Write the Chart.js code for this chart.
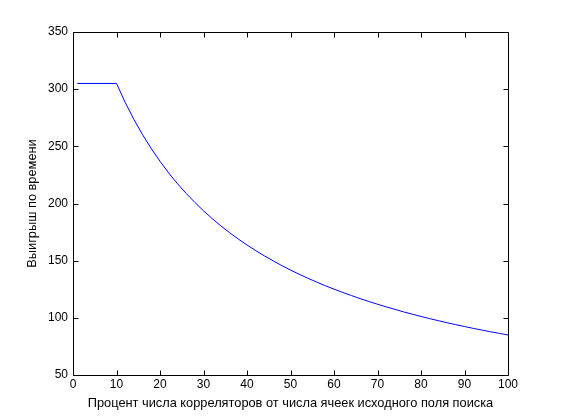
<!DOCTYPE html>
<html>
<head>
<meta charset="utf-8">
<script src="https://cdn.jsdelivr.net/npm/chart.js@4/dist/chart.umd.min.js"></script>
<style>
html,body{margin:0;padding:0;background:#fff;}
#wrap{width:561px;height:420px;}
</style>
</head>
<body>
<div id="wrap"><canvas id="c" width="561" height="420"></canvas></div>
<script>
const xValues = [1, 10, 12, 14, 16, 18, 20, 22, 24, 26, 28, 30, 32, 34, 36, 38, 40, 42, 44, 46, 48, 50,
  52, 54, 56, 58, 60, 62, 64, 66, 68, 70, 72, 74, 76, 78, 80, 82, 84, 86, 88, 90, 92, 94, 96, 98, 100];
const gainValues = [305, 305, 288.4, 273.5, 260.1, 248.0, 236.9, 226.7, 217.4, 208.9, 201.0, 193.6, 186.8,
  180.4, 174.5, 168.9, 163.7, 158.8, 154.2, 149.9, 145.7, 141.8, 138.1, 134.6, 131.3, 128.1, 125.1,
  122.2, 119.5, 116.8, 114.3, 111.9, 109.6, 107.4, 105.2, 103.2, 101.2, 99.3, 97.5, 95.7, 94.0, 92.4,
  90.8, 89.3, 87.8, 86.4, 85.0];
const xTitle = 'Процент числа корреляторов от числа ячеек исходного поля поиска';
const yTitle = 'Выигрыш по времени';

const TICK_FONT = {family: '"Liberation Sans", Arial, sans-serif', size: 12};
const TITLE_FONT = {family: '"Liberation Sans", Arial, sans-serif', size: 12.8};

const boxTicks = {
  id: 'boxTicks',
  afterDraw(chart) {
    const ctx = chart.ctx;
    const a = chart.chartArea;
    const xs = chart.scales.x, ys = chart.scales.y;
    ctx.save();
    ctx.strokeStyle = '#000';
    ctx.lineWidth = 1;
    ctx.beginPath();
    const L = Math.round(a.left) + 0.5, R = Math.round(a.right) + 0.5;
    const T = Math.round(a.top) + 0.5, B = Math.round(a.bottom) + 0.5;
    ctx.rect(L, T, R - L, B - T);
    const tl = 5;
    xs.ticks.forEach(t => {
      const px = Math.round(xs.getPixelForValue(t.value)) + 0.5;
      ctx.moveTo(px, B); ctx.lineTo(px, B - tl);
      ctx.moveTo(px, T); ctx.lineTo(px, T + tl);
    });
    ys.ticks.forEach(t => {
      const py = Math.round(ys.getPixelForValue(t.value)) + 0.5;
      ctx.moveTo(L, py); ctx.lineTo(L + tl, py);
      ctx.moveTo(R, py); ctx.lineTo(R - tl, py);
    });
    ctx.stroke();
    ctx.restore();
  }
};

new Chart(document.getElementById('c'), {
  type: 'line',
  data: {
    datasets: [{
      data: xValues.map((x, i) => ({x: x, y: gainValues[i]})),
      borderColor: '#0000ff',
      borderWidth: 1,
      pointRadius: 0,
      tension: 0,
      fill: false
    }]
  },
  options: {
    responsive: false,
    animation: false,
    devicePixelRatio: 1,
    layout: {padding: {left: 0, right: 53, top: 32, bottom: 0}},
    plugins: {legend: {display: false}, tooltip: {enabled: false}},
    scales: {
      x: {
        type: 'linear', min: 0, max: 100,
        afterFit(s) { s.height = 45; },
        grid: {display: false, drawTicks: false},
        border: {display: false},
        ticks: {stepSize: 10, color: '#000', font: TICK_FONT, padding: 2, maxRotation: 0},
        title: {display: true, text: xTitle, color: '#000', font: TITLE_FONT, padding: {top: 0, bottom: 9}}
      },
      y: {
        type: 'linear', min: 50, max: 350,
        afterFit(s) { s.width = 73; },
        grid: {display: false, drawTicks: false},
        border: {display: false},
        ticks: {stepSize: 50, color: '#000', font: TICK_FONT, padding: 5},
        title: {display: true, text: yTitle, color: '#000', font: TITLE_FONT, padding: {top: 25, bottom: 0}}
      }
    }
  },
  plugins: [boxTicks]
});
</script>
</body>
</html>
